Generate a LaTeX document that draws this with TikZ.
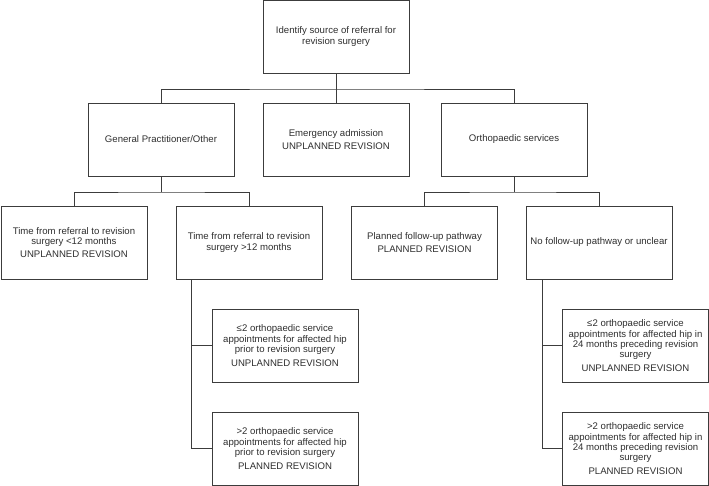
\documentclass[tikz,border=0pt]{standalone}
\usepackage{fontspec}
\setmainfont{Liberation Sans}
\usetikzlibrary{calc}
\definecolor{linec}{HTML}{3C3C3C}
\definecolor{textc}{HTML}{2E2E2E}
\tikzset{
  box/.style={draw=linec, line width=0.9pt, minimum width=146pt, minimum height=73pt,
    inner sep=0pt, align=center, text=textc,
    font=\fontsize{9.6}{10.4}\selectfont},
  conn/.style={draw=linec, line width=0.9pt}
}
\begin{document}
\begin{tikzpicture}[x=1pt,y=-1pt]
\useasboundingbox (0,0) rectangle (709,486);
\node[box] (top) at (336,36.5) {Identify source of referral for\\revision surgery};
\node[box] (gp) at (161,139.5) {General Practitioner/Other};
\node[box] (em) at (336,139.5) {Emergency admission\\[3pt]UNPLANNED REVISION};
\node[box] (or) at (514,139.5) {Orthopaedic services};
\node[box] (t1) at (74,242.5) {Time from referral to revision\\surgery <12 months\\[3pt]UNPLANNED REVISION};
\node[box] (t2) at (249,242.5) {Time from referral to revision\\surgery >12 months};
\node[box] (pl) at (424.5,242.5) {Planned follow-up pathway\\[3pt]PLANNED REVISION};
\node[box] (nf) at (599,242.5) {No follow-up pathway or unclear};
\node[box] (s1) at (285,345.5) {≤2 orthopaedic service\\appointments for affected hip\\prior to revision surgery\\[3pt]UNPLANNED REVISION};
\node[box] (s2) at (285,448.5) {>2 orthopaedic service\\appointments for affected hip\\prior to revision surgery\\[3pt]PLANNED REVISION};
\node[box] (s3) at (635.5,345.5) {≤2 orthopaedic service\\appointments for affected hip in\\24 months preceding revision\\surgery\\[3pt]UNPLANNED REVISION};
\node[box] (s4) at (635.5,448.5) {>2 orthopaedic service\\appointments for affected hip in\\24 months preceding revision\\surgery\\[3pt]PLANNED REVISION};
\coordinate (b1) at (336,89);
\coordinate (b2) at (161,192);
\coordinate (b3) at (514,192);
\coordinate (v1) at (191,279);
\coordinate (v2) at (542,279);
\draw[conn] (top.south) -- (b1);
\draw[conn] (gp.north) |- (b1) -| (or.north);
\draw[conn] (em.north) -- (b1);
\draw[conn] (gp.south) -- (b2);
\draw[conn] (t1.north) |- (b2) -| (t2.north);
\draw[conn] (or.south) -- (b3);
\draw[conn] (pl.north) |- (b3) -| (nf.north);
\draw[conn] (v1) |- (s2.west);
\draw[conn] (v1 |- s1.west) -- (s1.west);
\draw[conn] (v2) |- (s4.west);
\draw[conn] (v2 |- s3.west) -- (s3.west);
\end{tikzpicture}
\end{document}
